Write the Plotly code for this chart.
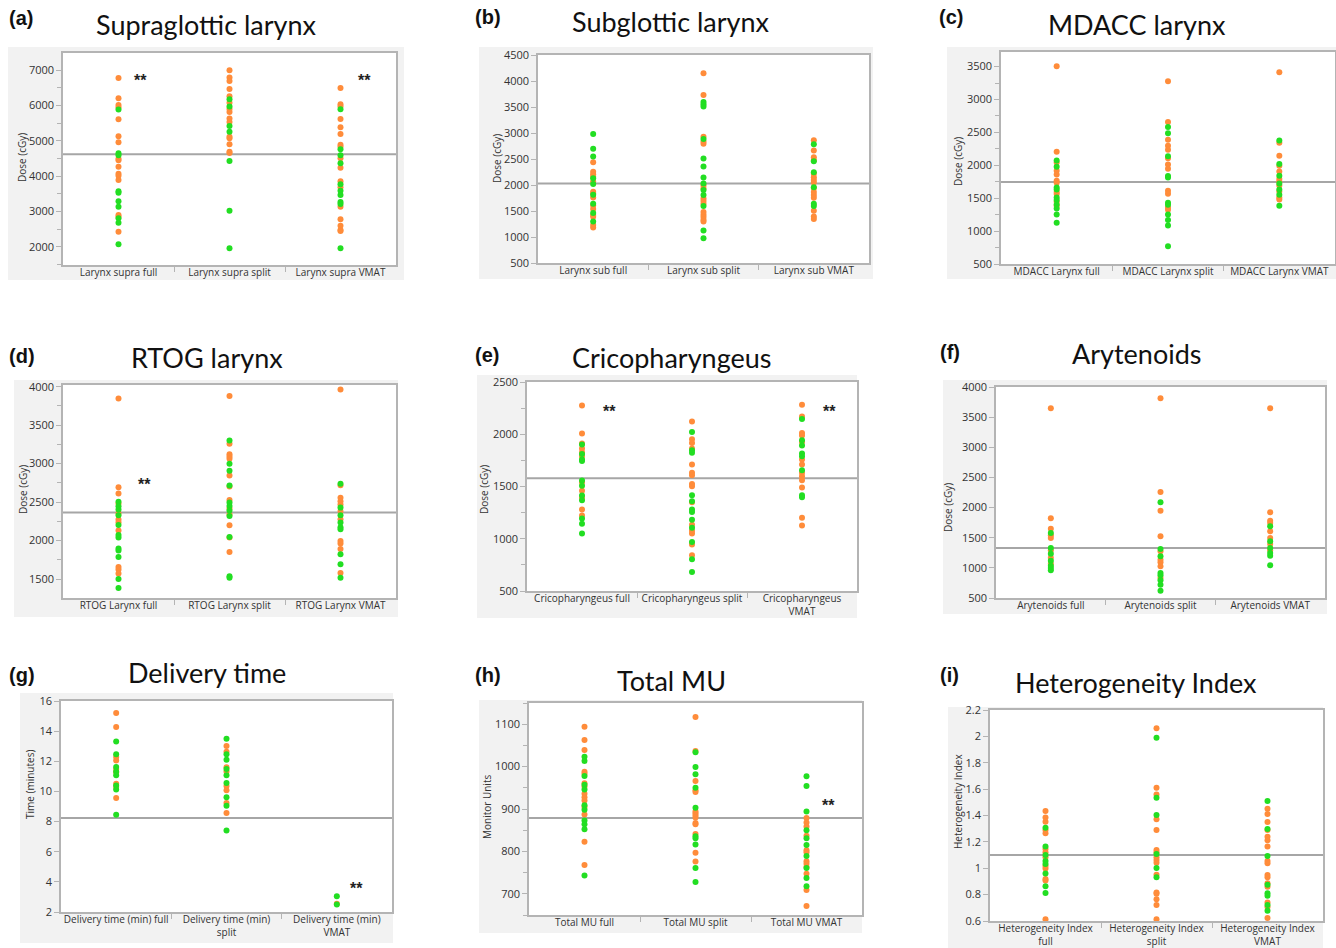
import plotly.graph_objects as go

W, H = 1336, 948
ORANGE = "#FF8C3A"
GREEN = "#22DE22"

# ---------------- data ----------------
a_cats = ["Larynx supra full", "Larynx supra split", "Larynx supra VMAT"]
a_orange = [
    [6783, 6206, 6017, 5951, 5610, 5129, 4958, 4495, 4448, 4268, 4070, 4013, 3890, 2898, 2850, 2425],
    [7000, 6792, 6698, 6471, 6263, 6083, 5904, 5819, 5630, 5535, 5119, 5072, 4902, 4694, 4656],
    [6499, 6036, 5970, 5620, 5384, 5195, 4892, 4835, 4505, 4240, 3853, 3682, 3134, 2775, 2596, 2473, 2444],
]
a_green = [
    [5885, 4647, 4590, 3569, 3531, 3285, 3134, 2803, 2680, 2066],
    [6178, 5970, 5422, 5261, 4429, 3021, 1953],
    [5894, 4760, 4590, 4363, 3767, 3588, 3465, 3266, 3210, 1953],
]
a_mean = 4620

b_cats = ["Larynx sub full", "Larynx sub split", "Larynx sub VMAT"]
b_orange = [
    [2439, 2254, 2209, 2158, 2068, 1870, 1838, 1761, 1607, 1537, 1422, 1390, 1230, 1185],
    [4148, 3732, 2926, 2836, 2791, 1991, 1934, 1742, 1690, 1639, 1479, 1428, 1383, 1332, 1300],
    [2862, 2663, 2535, 2478, 2215, 2151, 2094, 2049, 1940, 1863, 1806, 1754, 1505, 1396, 1345],
]
b_green = [
    [2983, 2695, 2548, 2132, 2017, 1812, 1639, 1460, 1300],
    [3598, 3553, 3508, 2887, 2510, 2356, 2145, 2030, 1902, 1806, 1594, 1127, 974],
    [2785, 2458, 2247, 1959, 1639, 1594],
]
b_mean = 2030

c_cats = ["MDACC Larynx full", "MDACC Larynx split", "MDACC Larynx VMAT"]
c_orange = [
    [3505, 2205, 2043, 1917, 1861, 1765, 1734, 1593, 1562, 1446, 1385],
    [3277, 2660, 2387, 2296, 2235, 2109, 2013, 1947, 1613, 1567, 1360, 1325],
    [3414, 2341, 2144, 1992, 1906, 1790, 1755, 1694, 1603, 1512, 1481],
]
c_green = [
    [2073, 1977, 1664, 1633, 1512, 1471, 1406, 1345, 1254, 1127],
    [2584, 2488, 2139, 1836, 1815, 1431, 1401, 1254, 1168, 1087, 768],
    [2377, 2018, 1841, 1724, 1633, 1552, 1385],
]
c_mean = 1745

d_cats = ["RTOG Larynx full", "RTOG Larynx split", "RTOG Larynx VMAT"]
d_orange = [
    [3848, 2694, 2611, 2481, 2355, 2273, 2238, 2129, 1656, 1622, 1571],
    [3878, 3258, 3123, 3093, 3063, 2845, 2702, 2528, 2416, 2338, 2199, 2038, 1852],
    [3965, 2720, 2555, 2511, 2468, 2385, 2277, 1995, 1960, 1891, 1578],
]
d_green = [
    [2503, 2446, 2403, 2329, 2203, 2073, 2038, 1895, 1869, 1786, 1500, 1383],
    [3301, 2997, 2906, 2715, 2494, 2450, 2390, 2320, 2047, 1535, 1517],
    [2737, 2429, 2329, 2234, 2173, 2147, 1821, 1691, 1517],
]
d_mean = 2365

e_cats = ["Cricopharyngeus full", "Cricopharyngeus split", "Cricopharyngeus<br>VMAT"]
e_orange = [
    [2274, 2006, 1911, 1863, 1828, 1790, 1541, 1459, 1392, 1280, 1223],
    [2121, 1952, 1917, 1863, 1710, 1631, 1608, 1525, 1503, 1350, 1134, 1076, 1051, 946, 841],
    [2283, 2169, 2013, 1987, 1927, 1758, 1710, 1631, 1599, 1561, 1490, 1201, 1127],
]
e_green = [
    [1901, 1812, 1758, 1745, 1557, 1506, 1414, 1369, 1194, 1143, 1051],
    [2022, 1847, 1822, 1417, 1360, 1280, 1255, 1182, 1105, 968, 803, 682],
    [2146, 1943, 1892, 1815, 1790, 1656, 1417, 1398],
]
e_mean = 1580

f_cats = ["Arytenoids full", "Arytenoids split", "Arytenoids VMAT"]
f_orange = [
    [3646, 1822, 1650, 1540, 1495, 1291, 1169, 1070],
    [3812, 2258, 1949, 1523, 1274, 1136, 1092, 1025, 832],
    [3646, 1921, 1783, 1744, 1606, 1495, 1396, 1291],
]
f_green = [
    [1578, 1330, 1235, 1119, 1036, 998, 959],
    [2087, 1313, 1191, 915, 876, 793, 721, 622],
    [1689, 1440, 1330, 1247, 1202, 1042],
]
f_mean = 1330

g_cats = ["Delivery time (min) full", "Delivery time (min)<br>split", "Delivery time (min)<br>VMAT"]
g_orange = [
    [15.2, 14.27, 12.28, 12.06, 11.49, 11.27, 10.51, 10.29, 9.56],
    [13.01, 12.64, 11.6, 11.33, 10.36, 10.07, 9.23, 8.57],
    [2.55],
]
g_green = [
    [13.32, 12.46, 11.62, 11.33, 11.07, 10.40, 10.12, 8.46],
    [13.5, 12.46, 12.11, 11.49, 11.07, 10.56, 9.61, 9.05, 7.4],
    [3.04, 2.49],
]
g_mean = 8.24

h_cats = ["Total MU full", "Total MU split", "Total MU VMAT"]
h_orange = [
    [1094, 1063, 1039, 988, 983, 961, 953, 936, 928, 920, 905, 887, 823, 768],
    [1117, 1037, 966, 944, 940, 894, 890, 885, 880, 867, 864, 841, 797, 776],
    [879, 868, 859, 837, 803, 798, 777, 771, 763, 747, 709, 671],
]
h_green = [
    [1023, 1013, 978, 957, 946, 909, 898, 873, 864, 852, 743],
    [1034, 999, 982, 950, 903, 836, 831, 816, 761, 728],
    [977, 954, 894, 850, 831, 815, 789, 761, 737, 718],
]
h_mean = 879

i_cats = ["Heterogeneity Index<br>full", "Heterogeneity Index<br>split", "Heterogeneity Index<br>VMAT"]
i_orange = [
    [1.434, 1.384, 1.353, 1.290, 1.265, 1.146, 1.121, 1.083, 1.017, 0.999, 0.918, 0.908, 0.613],
    [2.061, 1.611, 1.560, 1.371, 1.290, 1.138, 1.121, 1.083, 1.063, 1.042, 0.951, 0.817, 0.807, 0.764, 0.721, 0.613],
    [1.452, 1.411, 1.351, 1.290, 1.239, 1.212, 1.164, 1.055, 1.037, 0.949, 0.931, 0.886, 0.860, 0.741, 0.706, 0.623],
]
i_green = [
    [1.308, 1.164, 1.100, 1.055, 1.032, 0.961, 0.863, 0.812],
    [1.990, 1.535, 1.404, 1.108, 1.002, 0.931],
    [1.510, 1.298, 1.093, 0.875, 0.810, 0.792, 0.721, 0.678],
]
i_mean = 1.10

titles = ["Supraglottic larynx", "Subglottic larynx", "MDACC larynx", "RTOG larynx",
          "Cricopharyngeus", "Arytenoids", "Delivery time", "Total MU", "Heterogeneity Index"]
letters = ["(a)", "(b)", "(c)", "(d)", "(e)", "(f)", "(g)", "(h)", "(i)"]
ytitles = ["Dose (cGy)"] * 6 + ["Time (minutes)", "Monitor Units", "Heterogeneity Index"]

# significance markers: (panel index, category position, value)
stars = [(0, 0.2, 6830), (0, 2.22, 6830), (3, 0.23, 2785), (4, 0.25, 2255), (4, 2.25, 2255),
         (6, 2.18, 3.81), (7, 2.2, 917)]

panels = [
    (a_cats, a_orange, a_green, a_mean),
    (b_cats, b_orange, b_green, b_mean),
    (c_cats, c_orange, c_green, c_mean),
    (d_cats, d_orange, d_green, d_mean),
    (e_cats, e_orange, e_green, e_mean),
    (f_cats, f_orange, f_green, f_mean),
    (g_cats, g_orange, g_green, g_mean),
    (h_cats, h_orange, h_green, h_mean),
    (i_cats, i_orange, i_green, i_mean),
]

# ---------------- layout geometry (pixels) ----------------
# gray box, plot box, y range, dtick, minor dtick, title centre, letter position, y-title centre
geo = [
    ((8, 47, 404, 280), (63, 53, 396, 265), [1480, 7490], 1000, 500, (207, 25), (7, 18), (22, 158)),
    ((479, 47, 873, 279), (538, 55, 869, 263), [500, 4500], 500, None, (671, 21), (473, 17), (497, 158)),
    ((947, 47, 1336, 279), (1001, 52, 1335, 264), [500, 3722], 500, 250, (1137, 25), (937, 17), (958, 162)),
    ((14, 380, 398, 617), (63, 385, 396, 598), [1253, 4022], 500, 250, (207, 358), (7, 356), (23, 490)),
    ((477, 375, 857, 618), (527, 382, 857, 591), [500, 2500], 500, 250, (671, 357), (473, 355), (484, 490)),
    ((943, 380, 1327, 614), (996, 387, 1325, 598), [500, 4000], 500, None, (1137, 353), (938, 352), (948, 508)),
    ((20, 693, 393, 943), (61, 701, 392, 912), [2, 16], 2, None, (207, 672), (7, 675), (30, 785)),
    ((479, 700, 862, 933), (529, 703, 862, 915), [650, 1150], 100, 50, (671, 680), (473, 675), (487, 807)),
    ((948, 707, 1323, 948), (990, 710, 1323, 921), [0.6, 2.2], 0.2, None, (1136, 682), (938, 675), (958, 802)),
]

def px(x):
    return x / W

def py(y):
    return 1 - y / H

fig = go.Figure()
layout = dict(
    width=W, height=H, margin=dict(l=0, r=0, t=0, b=0, pad=0), autosize=False,
    paper_bgcolor="white", plot_bgcolor="white", showlegend=False,
    shapes=[], annotations=[],
)

AX_COL = "#b4b4b4"
TXT_COL = "#333333"
TICK_FONT = dict(family="Open Sans", size=11, color=TXT_COL)

for k, ((cats, oranges, greens, mean), g) in enumerate(zip(panels, geo)):
    gray, plot, yr, dtick, mdtick, tpos, lpos, ytpos = g
    n = "" if k == 0 else str(k + 1)
    xa, ya = "x" + n, "y" + n
    for vals, col in ((oranges, ORANGE), (greens, GREEN)):
        xs, ys = [], []
        for ci, arr in enumerate(vals):
            xs += [ci] * len(arr)
            ys += arr
        fig.add_trace(go.Scatter(x=xs, y=ys, mode="markers", xaxis=xa, yaxis=ya,
                                 marker=dict(color=col, size=6, line=dict(width=0)),
                                 hoverinfo="y"))
    layout["xaxis" + n] = dict(
        domain=[px(plot[0]), px(plot[2])], anchor=ya, range=[-0.5, 2.5], automargin=False,
        tickmode="array", tickvals=[0, 1, 2], ticktext=cats, ticks="", ticklen=0,
        ticklabelstandoff=-3,
        tickfont=dict(family="Open Sans", size=10, color=TXT_COL),
        showline=True, mirror=True, linecolor=AX_COL, linewidth=1.5,
        showgrid=False, zeroline=False, fixedrange=True,
        minor=dict(tickmode="array", tickvals=[0.5, 1.5], ticks="outside",
                   ticklen=5, tickcolor=AX_COL, tickwidth=1, showgrid=False),
    )
    yd = dict(
        domain=[py(plot[3]), py(plot[1])], anchor=xa, range=yr, automargin=False,
        tickmode="linear", tick0=0, dtick=dtick, ticks="outside", ticklen=5,
        tickcolor=AX_COL, tickfont=TICK_FONT,
        showline=True, mirror=True, linecolor=AX_COL, linewidth=1.5,
        showgrid=False, zeroline=False, fixedrange=True,
    )
    if mdtick:
        yd["minor"] = dict(dtick=mdtick, ticks="outside", ticklen=4, tickcolor=AX_COL, showgrid=False)
    layout["yaxis" + n] = yd
    # gray panel backdrop
    layout["shapes"].append(dict(type="rect", xref="paper", yref="paper", layer="below",
                                 x0=px(gray[0]), x1=px(gray[2]), y0=py(gray[3]), y1=py(gray[1]),
                                 fillcolor="#f2f2f2", line=dict(width=0)))
    # white plotting area
    layout["shapes"].append(dict(type="rect", xref=xa + " domain", yref=ya + " domain", layer="below",
                                 x0=0, x1=1, y0=0, y1=1, fillcolor="white", line=dict(width=0)))
    # mean line
    layout["shapes"].append(dict(type="line", xref=xa + " domain", yref=ya, x0=0, x1=1, layer="below",
                                 y0=mean, y1=mean, line=dict(color="#a6a6a6", width=2)))
    # title, letter, y-axis title
    layout["annotations"].append(dict(text=titles[k], xref="paper", yref="paper",
                                      x=px(tpos[0]), y=py(tpos[1]), xanchor="center", yanchor="middle",
                                      showarrow=False, font=dict(family="Lato", size=27, color="#111111")))
    layout["annotations"].append(dict(text="<b>" + letters[k] + "</b>", xref="paper", yref="paper",
                                      x=px(lpos[0]), y=py(lpos[1]), xanchor="left", yanchor="middle",
                                      showarrow=False, font=dict(family="Liberation Sans", size=20, color="#111111")))
    layout["annotations"].append(dict(text=ytitles[k], xref="paper", yref="paper", textangle=-90,
                                      x=px(ytpos[0]), y=py(ytpos[1]), xanchor="center", yanchor="middle",
                                      showarrow=False, font=dict(family="Open Sans", size=10, color=TXT_COL)))

for (k, xv, yv) in stars:
    n = "" if k == 0 else str(k + 1)
    layout["annotations"].append(dict(text="<b>**</b>", xref="x" + n, yref="y" + n, x=xv, y=yv,
                                      xanchor="center", yanchor="middle", yshift=-4, showarrow=False,
                                      font=dict(family="Liberation Sans", size=16, color="#222222")))

fig.update_layout(**layout)
fig.write_html("out.html", config={"displayModeBar": False},
               post_script="document.documentElement.style.margin='0';document.body.style.margin='0';")
